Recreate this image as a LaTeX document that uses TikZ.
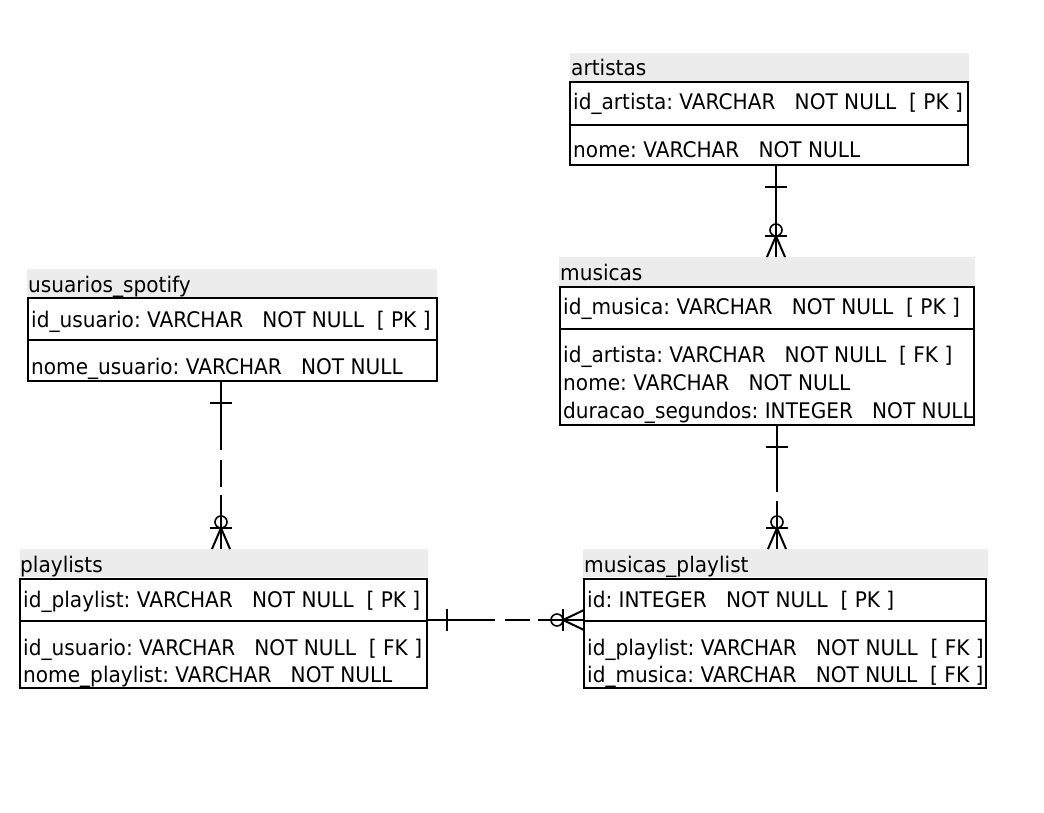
\documentclass[tikz,border=0pt]{standalone}
\usepackage{fontspec}
\setmainfont{DejaVu Sans}[FakeStretch=0.935]
\usetikzlibrary{calc}
\definecolor{hdrgray}{RGB}{236,236,236}
\frenchspacing
\newcommand\erOneV[1]{\draw[markl] ($(#1)+(-11,22)$) -- ($(#1)+(11,22)$);}
\newcommand\erManyV[1]{%
  \draw[markl] ($(#1)+(-11,-21)$) -- ($(#1)+(11,-21)$);
  \draw[markc] ($(#1)+(0,-27)$) circle[radius=6];
  \draw[markl] ($(#1)+(-9,0)$) -- ($(#1)+(0,-21)$) -- ($(#1)+(9,0)$);}
\newcommand\erOneH[1]{\draw[markl] ($(#1)+(20,-11)$) -- ($(#1)+(20,11)$);}
\newcommand\erManyH[1]{%
  \draw[markl] ($(#1)+(-21,-11)$) -- ($(#1)+(-21,11)$);
  \draw[markc] ($(#1)+(-27,0)$) circle[radius=6];
  \draw[markl] ($(#1)+(0,-10)$) -- ($(#1)+(-21,0)$) -- ($(#1)+(0,10)$);}
\begin{document}
\begin{tikzpicture}[x=1pt,y=-1pt,
  hdr/.style={fill=hdrgray, draw=none, anchor=north west, inner sep=0pt, outer sep=0pt},
  tbl/.style={draw=black, line width=2pt, anchor=north west, inner sep=0pt, outer sep=0pt},
  txt/.style={anchor=base west, inner sep=0pt, font=\fontsize{21.5}{25}\selectfont\frenchspacing},
  divl/.style={line width=2pt},
  conn/.style={line width=2pt},
  markl/.style={line width=2pt},
  markc/.style={line width=1.6pt}]
\useasboundingbox (0,0) rectangle (1044,813);

% ---------- artistas ----------
\node[hdr, minimum width=399, minimum height=29] (arth) at (570,53) {};
\node[tbl, minimum width=398, minimum height=83] (artb) at (570,82) {};
\draw[divl] (artb.west |- 0,125) -- (artb.east |- 0,125);
\node[txt] (artt) at (571,76) {artistas};
\node[txt] (art1) at (573,110) {id\_artista: VARCHAR~~~NOT NULL~~[ PK ]};
\node[txt] (art2) at (573,158) {nome: VARCHAR~~~NOT NULL};

% ---------- usuarios_spotify ----------
\node[hdr, minimum width=410, minimum height=28] (usuh) at (27,269) {};
\node[tbl, minimum width=409, minimum height=83] (usub) at (28,298) {};
\draw[divl] (usub.west |- 0,340) -- (usub.east |- 0,340);
\node[txt] (usut) at (28,292) {usuarios\_spotify};
\node[txt] (usu1) at (31,327) {id\_usuario: VARCHAR~~~NOT NULL~~[ PK ]};
\node[txt] (usu2) at (31,374) {nome\_usuario: VARCHAR~~~NOT NULL};

% ---------- musicas ----------
\node[hdr, minimum width=416, minimum height=29] (mush) at (559,257) {};
\node[tbl, minimum width=414, minimum height=138] (musb) at (560,287) {};
\draw[divl] (musb.west |- 0,329) -- (musb.east |- 0,329);
\node[txt] (must) at (560,280) {musicas};
\node[txt] (mus1) at (563,314) {id\_musica: VARCHAR~~~NOT NULL~~[ PK ]};
\node[txt] (mus2) at (563,362) {id\_artista: VARCHAR~~~NOT NULL~~[ FK ]};
\node[txt] (mus3) at (563,390) {nome: VARCHAR~~~NOT NULL};
\node[txt] (mus4) at (563,418) {duracao\_segundos: INTEGER~~~NOT NULL};

% ---------- playlists ----------
\node[hdr, minimum width=408, minimum height=28] (plh) at (20,549) {};
\node[tbl, minimum width=407, minimum height=109] (plb) at (20,579) {};
\draw[divl] (plb.west |- 0,621) -- (plb.east |- 0,621);
\node[txt] (plt) at (20,572) {playlists};
\node[txt] (pl1) at (23,607) {id\_playlist: VARCHAR~~~NOT NULL~~[ PK ]};
\node[txt] (pl2) at (23,655) {id\_usuario: VARCHAR~~~NOT NULL~~[ FK ]};
\node[txt] (pl3) at (23,682) {nome\_playlist: VARCHAR~~~NOT NULL};

% ---------- musicas_playlist ----------
\node[hdr, minimum width=405, minimum height=28] (mph) at (583,549) {};
\node[tbl, minimum width=402, minimum height=109] (mpb) at (584,579) {};
\draw[divl] (mpb.west |- 0,621) -- (mpb.east |- 0,621);
\node[txt] (mpt) at (584,572) {musicas\_playlist};
\node[txt] (mp1) at (587,607) {id: INTEGER~~~NOT NULL~~[ PK ]};
\node[txt] (mp2) at (587,655) {id\_playlist: VARCHAR~~~NOT NULL~~[ FK ]};
\node[txt] (mp3) at (587,682) {id\_musica: VARCHAR~~~NOT NULL~~[ FK ]};

% ---------- connectors ----------
\coordinate (x1) at (776,0);
\coordinate (x2) at (221,0);
\coordinate (x3) at (777,0);
\coordinate (y4) at (0,620);

% artistas -> musicas
\coordinate (c1s) at (artb.south -| x1);
\coordinate (c1e) at (mush.north -| x1);
\draw[conn] (c1s) -- (c1e);
\erOneV{c1s}
\erManyV{c1e}

% usuarios_spotify -> playlists
\coordinate (c2s) at (usub.south -| x2);
\coordinate (c2e) at (plh.north -| x2);
\draw[conn, dash pattern=on 69pt off 10pt on 27pt off 8pt on 80pt off 0pt] (c2s) -- (c2e);
\erOneV{c2s}
\erManyV{c2e}

% musicas -> musicas_playlist
\coordinate (c3s) at (musb.south -| x3);
\coordinate (c3e) at (mph.north -| x3);
\draw[conn, dash pattern=on 67pt off 9pt on 80pt off 0pt] (c3s) -- (c3e);
\erOneV{c3s}
\erManyV{c3e}

% playlists -> musicas_playlist
\coordinate (c4s) at (plb.east |- y4);
\coordinate (c4e) at (mpb.west |- y4);
\draw[conn, dash pattern=on 68pt off 10pt on 25pt off 8pt on 80pt off 0pt] (c4s) -- (c4e);
\erOneH{c4s}
\erManyH{c4e}
\end{tikzpicture}
\end{document}
